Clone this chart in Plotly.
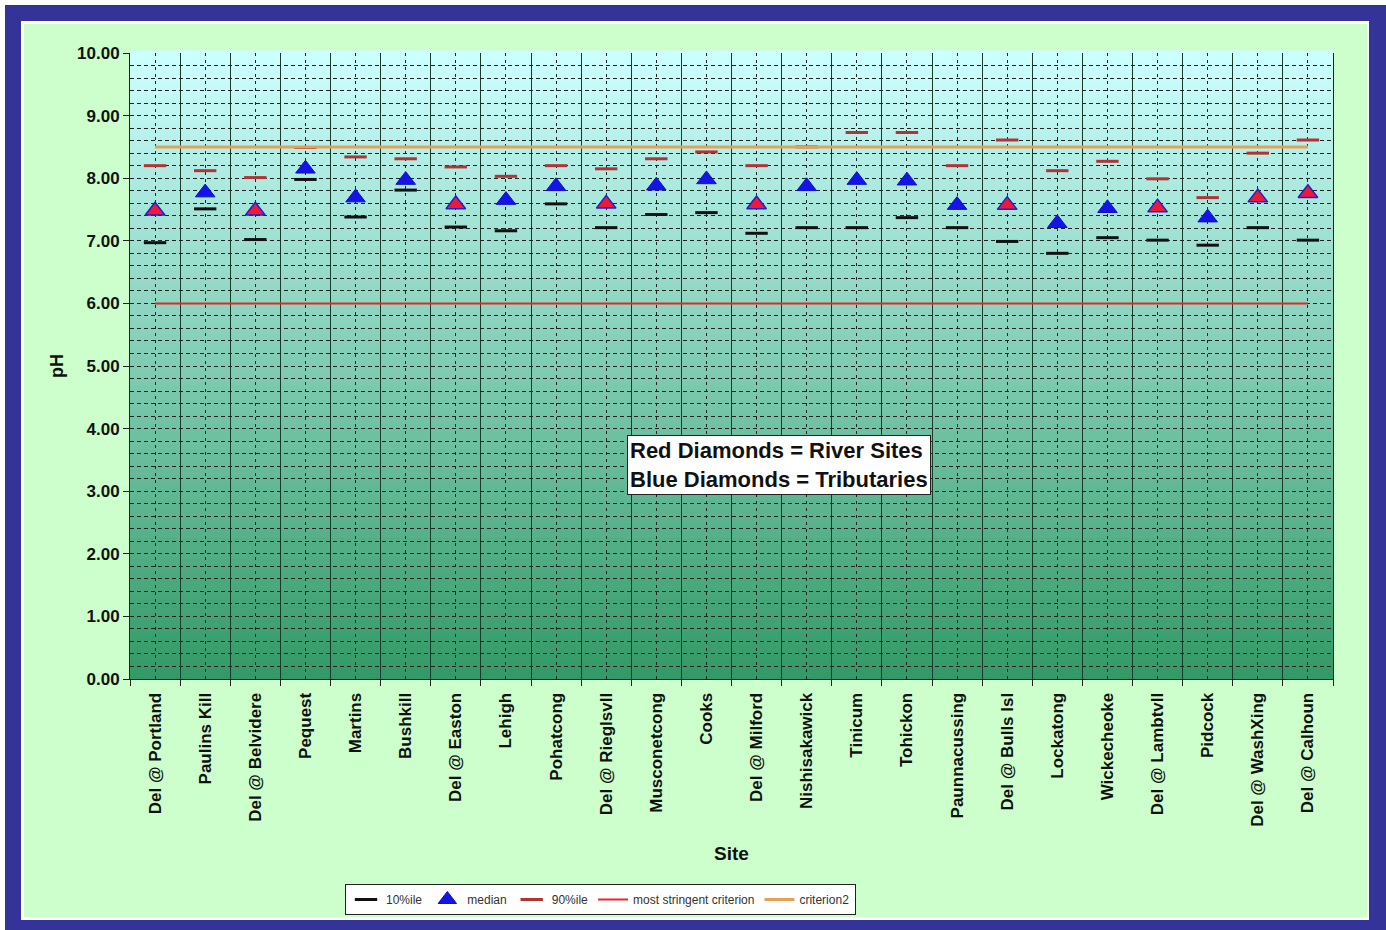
import plotly.graph_objects as go

# --- data -------------------------------------------------------------
sites = ["Del @ Portland", "Paulins Kill", "Del @ Belvidere", "Pequest", "Martins",
         "Bushkill", "Del @ Easton", "Lehigh", "Pohatcong", "Del @ Rieglsvll",
         "Musconetcong", "Cooks", "Del @ Milford", "Nishisakawick", "Tinicum",
         "Tohickon", "Paunnacussing", "Del @ Bulls Isl", "Lockatong", "Wickecheoke",
         "Del @ Lambtvll", "Pidcock", "Del @ WashXing", "Del @ Calhoun"]
site_type = ["river", "trib", "river", "trib", "trib", "trib", "river", "trib",
             "trib", "river", "trib", "trib", "river", "trib", "trib", "trib",
             "trib", "river", "trib", "trib", "river", "trib", "river", "river"]
p10 = [6.97, 7.51, 7.02, 7.98, 7.38, 7.81, 7.22, 7.16, 7.59, 7.21, 7.42, 7.45,
       7.12, 7.21, 7.21, 7.37, 7.21, 6.99, 6.80, 7.05, 7.01, 6.93, 7.21, 7.01]
median = [7.48, 7.77, 7.48, 8.15, 7.69, 7.97, 7.58, 7.65, 7.87, 7.59, 7.88, 7.98,
          7.58, 7.87, 7.97, 7.96, 7.57, 7.57, 7.28, 7.52, 7.53, 7.37, 7.69, 7.76]
p90 = [8.20, 8.12, 8.01, 8.49, 8.34, 8.31, 8.18, 8.03, 8.20, 8.15, 8.31, 8.42,
       8.20, 8.50, 8.73, 8.73, 8.20, 8.61, 8.12, 8.27, 7.99, 7.69, 8.40, 8.61]
most_stringent = [6.0] * len(sites)
criterion2 = [8.5] * len(sites)
y_ticks = [0, 1, 2, 3, 4, 5, 6, 7, 8, 9, 10]

# --- page geometry (pixels) ------------------------------------------
W, H = 1386, 930
ML, MR, MT, MB = 130, 53, 53, 251
PW, PH = W - ML - MR, H - MT - MB


def px_x(px):
    return (px - ML) / PW


def px_y(py):
    return (H - MB - py) / PH


FONT = "Arial, 'Liberation Sans', sans-serif"
xs = list(range(1, len(sites) + 1))

fig = go.Figure()

fig.add_trace(go.Scatter(
    x=xs, y=p10, mode="markers", name="10%ile",
    marker=dict(symbol="line-ew", size=16, line=dict(width=3, color="#111111")),
))

trib_x = [x for x, t in zip(xs, site_type) if t == "trib"]
trib_y = [m for m, t in zip(median, site_type) if t == "trib"]
river_x = [x for x, t in zip(xs, site_type) if t == "river"]
river_y = [m for m, t in zip(median, site_type) if t == "river"]

fig.add_trace(go.Scatter(
    x=trib_x, y=trib_y, mode="markers", name="median",
    marker=dict(symbol="triangle-up", size=17, color="#1414e6",
                line=dict(width=1, color="#1010cc")),
))

fig.add_trace(go.Scatter(
    x=xs, y=p90, mode="markers", name="90%ile",
    marker=dict(symbol="line-ew", size=16, line=dict(width=3, color="#b03434")),
))

fig.add_trace(go.Scatter(
    x=xs, y=most_stringent, mode="lines", name="most stringent criterion",
    line=dict(color="#e02828", width=2),
))

fig.add_trace(go.Scatter(
    x=xs, y=criterion2, mode="lines", name="criterion2",
    line=dict(color="#e8a058", width=3),
))

fig.add_trace(go.Scatter(
    x=river_x, y=river_y, mode="markers", name="median (river)", showlegend=False,
    marker=dict(symbol="triangle-up", size=17, color="#f01838",
                line=dict(width=1.5, color="#2020cc")),
))

# --- decorative frame and gradient plot background -------------------
shapes = [
    dict(type="rect", xref="paper", yref="paper", layer="below",
         x0=px_x(5), x1=px_x(W + 5), y0=px_y(H + 5), y1=px_y(5),
         fillcolor="#333399", line=dict(width=0)),
    dict(type="rect", xref="paper", yref="paper", layer="below",
         x0=px_x(21), x1=px_x(1369), y0=px_y(920), y1=px_y(21),
         fillcolor="#ffffff", line=dict(width=0)),
    dict(type="rect", xref="paper", yref="paper", layer="below",
         x0=px_x(24), x1=px_x(1367), y0=px_y(917), y1=px_y(24),
         fillcolor="#ccffcc", line=dict(width=0)),
]
top_c = (204, 255, 255)
bot_c = (51, 153, 102)
n_strips = 120
for i in range(n_strips):
    f = i / (n_strips - 1)
    c = tuple(round(b + (t - b) * f) for t, b in zip(top_c, bot_c))
    shapes.append(dict(
        type="rect", xref="x domain", yref="y domain", layer="below",
        x0=0, x1=1, y0=i / n_strips, y1=(i + 1.5) / n_strips,
        fillcolor="rgb(%d,%d,%d)" % c, line=dict(width=0)))

annotations = [
    dict(text="<b>Red Diamonds = River Sites<br>Blue Diamonds = Tributaries</b>",
         xref="paper", yref="paper", x=px_x(779), y=px_y(465),
         xanchor="center", yanchor="middle", showarrow=False, align="left",
         font=dict(family=FONT, size=22, color="#111111"),
         bgcolor="#ffffff", bordercolor="#222222", borderwidth=1, borderpad=2),
    dict(text="<b>Site</b>", xref="paper", yref="paper",
         x=px_x(731), y=px_y(853), xanchor="center", yanchor="middle",
         showarrow=False, font=dict(family=FONT, size=19, color="#111111")),
    dict(text="<b>pH</b>", xref="paper", yref="paper", textangle=-90,
         x=px_x(57), y=px_y(366), xanchor="center", yanchor="middle",
         showarrow=False, font=dict(family=FONT, size=18, color="#111111")),
]

fig.update_layout(
    width=W, height=H,
    margin=dict(l=ML, r=MR, t=MT, b=MB, pad=0),
    paper_bgcolor="#ffffff",
    plot_bgcolor="rgba(0,0,0,0)",
    shapes=shapes,
    annotations=annotations,
    showlegend=True,
    legend=dict(
        orientation="h", xanchor="left", yanchor="top",
        x=px_x(345), y=px_y(884),
        bgcolor="#ffffff", bordercolor="#222222", borderwidth=1,
        font=dict(family=FONT, size=12, color="#333333"),
        itemwidth=30, tracegroupgap=0,
    ),
)

fig.update_xaxes(
    range=[0.5, len(sites) + 0.5],
    tickmode="array", tickvals=xs, ticktext=["<b>%s</b>" % s for s in sites],
    tickangle=-90, ticks="", ticklabelstandoff=6,
    tickfont=dict(family=FONT, size=17, color="#111111"),
    showgrid=True, gridcolor="#222222", gridwidth=1, griddash="3px,4px",
    minor=dict(tickvals=[x + 0.5 for x in [0] + xs], ticks="outside", ticklen=6,
               tickcolor="#222222", showgrid=True, gridcolor="#1a3a2a",
               gridwidth=1.3, griddash="solid"),
    showline=True, linecolor="#222222", linewidth=1,
    zeroline=False,
)

fig.update_yaxes(
    range=[0, 10], tickmode="array", tickvals=y_ticks,
    ticktext=["<b>%.2f</b>" % v for v in y_ticks],
    ticks="outside", ticklen=6, tickcolor="#222222",
    tickfont=dict(family=FONT, size=17, color="#111111"),
    showgrid=True, gridcolor="#222222", gridwidth=1, griddash="4px,3px",
    minor=dict(dtick=0.2, tick0=0, showgrid=True, gridcolor="#222222",
               gridwidth=1, griddash="4px,3px"),
    showline=True, linecolor="#222222", linewidth=1, mirror=True,
    zeroline=False,
)

fig.write_html("out.html")
